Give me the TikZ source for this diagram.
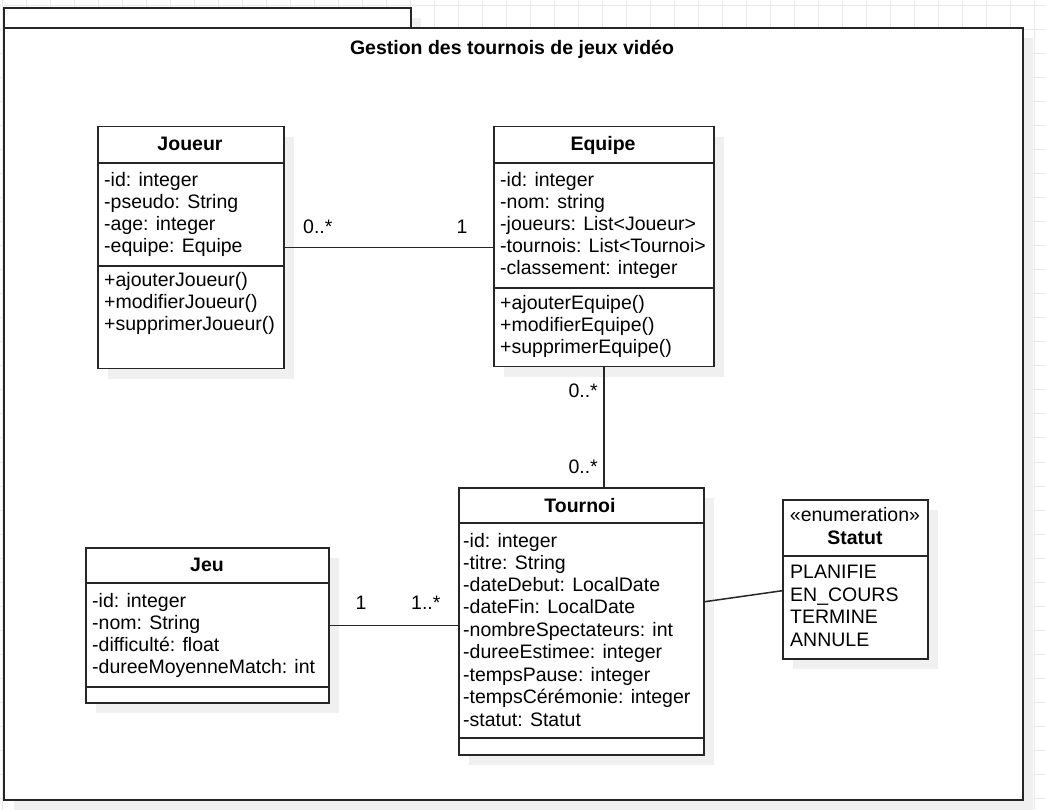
\documentclass[tikz,border=0pt]{standalone}
\usepackage{fontspec}
\setmainfont{Liberation Sans}
\usetikzlibrary{shadows,calc}
\begin{document}
\begin{tikzpicture}[x=1pt,y=-1pt,
  gridline/.style={draw=black!9, line width=1pt},
  box/.style={draw=black!85, line width=1.5pt, fill=white, rectangle, anchor=north west, inner sep=0pt,
    drop shadow={shadow xshift=10pt, shadow yshift=-10pt, fill=black!6, opacity=1}},
  pkgbox/.style={box, line width=2pt},
  txt/.style={anchor=west, inner sep=0pt, yshift=-1pt, font=\fontsize{19.5}{22}\selectfont, text height=14pt, text depth=4pt},
  head/.style={inner sep=0pt, yshift=-1pt, font=\fontsize{19.5}{22}\selectfont\bfseries, text height=14pt, text depth=4pt},
  plain/.style={inner sep=0pt, yshift=-1pt, font=\fontsize{19.5}{22}\selectfont, text height=14pt, text depth=4pt},
  sep/.style={draw=black!85, line width=1.5pt},
  conn/.style={draw=black!85, line width=1.5pt}]

\useasboundingbox (0,0) rectangle (1045,810);
\fill[white] (0,0) rectangle (1045,810);
% background grid
\foreach \gx in {2,26,...,1045} \draw[gridline] (\gx,0) -- (\gx,810);
\foreach \gy in {6,30,...,810} \draw[gridline] (0,\gy) -- (1045,\gy);

% package
\node[pkgbox, minimum width=407pt, minimum height=20pt] (tab) at (3,7) {};
\node[pkgbox, minimum width=1019pt, minimum height=772pt] (pkg) at (3,27) {};
\node[head] (title) at (512,49) {Gestion des tournois de jeux vidéo};

% Joueur
\node[box, minimum width=186pt, minimum height=242pt] (joueur) at (97,126) {};
\draw[sep] (joueur.west |- 0,163) -- (joueur.east |- 0,163);
\draw[sep] (joueur.west |- 0,266) -- (joueur.east |- 0,266);
\node[head] (joueurT) at (190,145) {Joueur};
\node[txt] (j1) at (104,181) {-id: integer};
\node[txt] (j2) at (104,203) {-pseudo: String};
\node[txt] (j3) at (104,225) {-age: integer};
\node[txt] (j4) at (104,247) {-equipe: Equipe};
\node[txt] (j5) at (104,281) {+ajouterJoueur()};
\node[txt] (j6) at (104,303) {+modifierJoueur()};
\node[txt] (j7) at (104,325) {+supprimerJoueur()};

% Equipe
\node[box, minimum width=220pt, minimum height=240pt] (equipe) at (493,126) {};
\draw[sep] (equipe.west |- 0,163) -- (equipe.east |- 0,163);
\draw[sep] (equipe.west |- 0,288) -- (equipe.east |- 0,288);
\node[head] (equipeT) at (603,145) {Equipe};
\node[txt] (e1) at (500,181) {-id: integer};
\node[txt] (e2) at (500,203) {-nom: string};
\node[txt] (e3) at (500,225) {-joueurs: List<Joueur>};
\node[txt] (e4) at (500,247) {-tournois: List<Tournoi>};
\node[txt] (e5) at (500,269) {-classement: integer};
\node[txt] (e6) at (500,304) {+ajouterEquipe()};
\node[txt] (e7) at (500,326) {+modifierEquipe()};
\node[txt] (e8) at (500,348) {+supprimerEquipe()};

% Tournoi
\node[box, minimum width=245pt, minimum height=267pt] (tournoi) at (458,487) {};
\draw[sep] (tournoi.west |- 0,523) -- (tournoi.east |- 0,523);
\draw[sep] (tournoi.west |- 0,738) -- (tournoi.east |- 0,738);
\node[head] (tournoiT) at (580,506) {Tournoi};
\node[txt] (t1) at (463,541) {-id: integer};
\node[txt] (t2) at (463,563) {-titre: String};
\node[txt] (t3) at (463,585) {-dateDebut: LocalDate};
\node[txt] (t4) at (463,607) {-dateFin: LocalDate};
\node[txt] (t5) at (463,630) {-nombreSpectateurs: int};
\node[txt] (t6) at (463,652) {-dureeEstimee: integer};
\node[txt] (t7) at (463,675) {-tempsPause: integer};
\node[txt] (t8) at (463,697) {-tempsCérémonie: integer};
\node[txt] (t9) at (463,720) {-statut: Statut};

% Statut
\node[box, minimum width=145pt, minimum height=159pt] (statut) at (782,499) {};
\draw[sep] (statut.west |- 0,556) -- (statut.east |- 0,556);
\node[plain] (statutS) at (855,515) {«enumeration»};
\node[head] (statutT) at (855,538) {Statut};
\node[txt] (s1) at (790,572) {PLANIFIE};
\node[txt] (s2) at (790,595) {EN\_COURS};
\node[txt] (s3) at (790,617) {TERMINE};
\node[txt] (s4) at (790,640) {ANNULE};

% Jeu
\node[box, minimum width=243pt, minimum height=155pt] (jeu) at (85,547) {};
\draw[sep] (jeu.west |- 0,583) -- (jeu.east |- 0,583);
\draw[sep] (jeu.west |- 0,687) -- (jeu.east |- 0,687);
\node[head] (jeuT) at (207,565) {Jeu};
\node[txt] (g1) at (92,601) {-id: integer};
\node[txt] (g2) at (92,623) {-nom: String};
\node[txt] (g3) at (92,645) {-difficulté: float};
\node[txt] (g4) at (92,667) {-dureeMoyenneMatch: int};

% connectors
\draw[conn] (joueur.east) -- (joueur.east -| equipe.west);
\draw[conn] (equipe.south) -- (equipe.south |- tournoi.north);
\draw[conn] (jeu.east) -- (jeu.east -| tournoi.west);
\draw[conn] ([yshift=19.5pt]tournoi.east) -- ([yshift=-11.5pt]statut.west);

% multiplicities
\node[txt] (m1) at (303,228) {0..*};
\node[plain] (m2) at (462,228) {1};
\node[plain, anchor=east] (m3) at (598,392) {0..*};
\node[plain, anchor=east] (m4) at (598,468) {0..*};
\node[plain] (m5) at (361,603) {1};
\node[txt] (m6) at (411,603) {1..*};
\end{tikzpicture}
\end{document}
